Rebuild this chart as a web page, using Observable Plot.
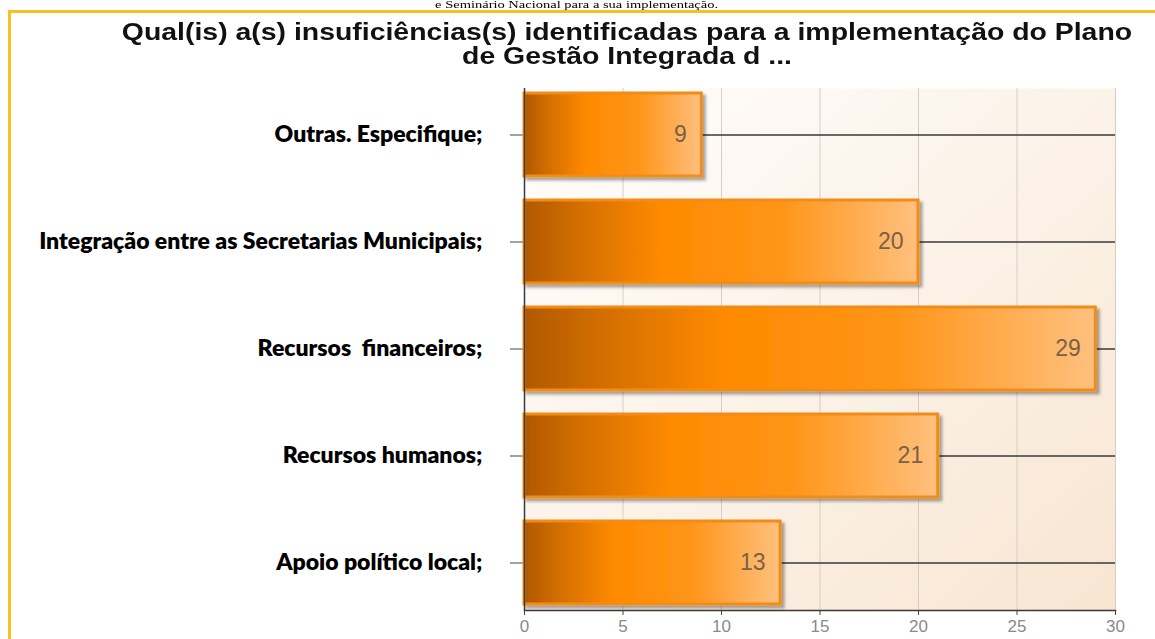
<!DOCTYPE html>
<html>
<head>
<meta charset="utf-8">
<script src="https://cdn.jsdelivr.net/npm/d3@7"></script>
<script src="https://cdn.jsdelivr.net/npm/@observablehq/plot@0.6"></script>
<style>
  html, body { margin: 0; padding: 0; background: #ffffff; }
  #wrap { position: relative; width: 1155px; height: 639px; overflow: hidden; background: #fff; }
  #doc { position: absolute; top: 0px; left: 318px; width: 517px; text-align: center; font-family: "Liberation Serif", serif; font-size: 10px; line-height: 10px; color: #000; white-space: nowrap; }
  #doc span { display: inline-block; transform: scaleX(1.45); transform-origin: center; }
  #border { position: absolute; left: 8px; top: 10px; right: -4px; bottom: -4px; border-top: 3px solid #f5c11e; border-left: 3px solid #f5c11e; }
  #title { position: absolute; top: 20px; left: 127px; width: 1000px; text-align: center; font-family: "Liberation Sans", Arial, sans-serif; font-weight: bold; font-size: 23px; line-height: 24px; color: #111; }
  #title div { transform: scaleX(1.235); transform-origin: center; white-space: nowrap; }
  #chart { position: absolute; left: 0; top: 0; }
  #chart svg text { white-space: pre; }
</style>
</head>
<body>
<div id="wrap">
  <div id="doc"><span>e Seminário Nacional para a sua implementação.</span></div>
  <div id="border"></div>
  <div id="chart"></div>
  <div id="title"><div>Qual(is) a(s) insuficiências(s) identificadas para a implementação do Plano</div><div>de Gestão Integrada d ...</div></div>
</div>
<script>
const categories = [
  "Outras. Especifique;",
  "Integração entre as Secretarias Municipais;",
  "Recursos  financeiros;",
  "Recursos humanos;",
  "Apoio político local;"
];
const values = [9, 20, 29, 21, 13];
const xTicks = [0, 5, 10, 15, 20, 25, 30];

const data = categories.map((c, i) => ({category: c, value: values[i]}));

const chart = Plot.plot({
  width: 1155,
  height: 639,
  marginLeft: 524,
  marginRight: 40,
  marginTop: 88,
  marginBottom: 29,
  style: {background: "transparent", overflow: "visible"},
  x: {domain: [0, 30], ticks: xTicks, label: null},
  y: {domain: categories, paddingInner: 0.224, paddingOuter: 0.03, label: null},
  marks: [
    Plot.frame({fill: "url(#bgGrad)", stroke: null}),
    Plot.gridX(xTicks, {stroke: "#d6cec6", strokeOpacity: 1, strokeWidth: 1}),
    Plot.ruleY(categories, {stroke: "#3a3a3a", strokeWidth: 1.5}),
    Plot.axisX({ticks: xTicks, tickSize: 5, tickPadding: 4, fontSize: 17, fill: "#8a8a8a", stroke: "#444", label: null, fontFamily: "Liberation Sans, Arial, sans-serif"}),
    Plot.axisY({tickSize: 14, tickPadding: 28, fontSize: 23, fontWeight: 800, fill: "#000", stroke: "#444", label: null, fontFamily: "Lato, sans-serif"}),
    Plot.barX(data, {x: "value", y: "category", fill: "url(#barGrad)", stroke: "#f28c18", strokeWidth: 3}),
    Plot.text(data, {x: "value", y: "category", text: d => String(d.value), textAnchor: "end", dx: -15, fontSize: 23, fill: "#7a6048", fontFamily: "Liberation Sans, Arial, sans-serif"}),
    Plot.ruleX([0], {stroke: "#3a3a3a", strokeWidth: 1.5}),
    Plot.frame({anchor: "bottom", stroke: "#3a3a3a", strokeWidth: 1.5})
  ]
});

const svg = d3.select(chart);
const defs = svg.insert("defs", ":first-child");
const bg = defs.append("linearGradient").attr("id", "bgGrad").attr("x1", 0).attr("y1", 0).attr("x2", 1).attr("y2", 1);
bg.append("stop").attr("offset", "0%").attr("stop-color", "#fffefd");
bg.append("stop").attr("offset", "55%").attr("stop-color", "#fbf1e6");
bg.append("stop").attr("offset", "100%").attr("stop-color", "#f7e5d1");
const bar = defs.append("linearGradient").attr("id", "barGrad").attr("x1", 0).attr("y1", 0).attr("x2", 1).attr("y2", 0);
bar.append("stop").attr("offset", "0%").attr("stop-color", "#b05800");
bar.append("stop").attr("offset", "12%").attr("stop-color", "#cf6c00");
bar.append("stop").attr("offset", "35%").attr("stop-color", "#ff8a00");
bar.append("stop").attr("offset", "65%").attr("stop-color", "#ff9518");
bar.append("stop").attr("offset", "100%").attr("stop-color", "#ffc07e");
const f = defs.append("filter").attr("id", "shadow").attr("x", "-5%").attr("y", "-10%").attr("width", "115%").attr("height", "130%");
f.append("feDropShadow").attr("dx", 3).attr("dy", 3).attr("stdDeviation", 1.5).attr("flood-color", "#000").attr("flood-opacity", 0.35);
svg.selectAll("g[aria-label='bar'] rect").attr("filter", "url(#shadow)");

document.getElementById("chart").appendChild(chart);
</script>
</body>
</html>
